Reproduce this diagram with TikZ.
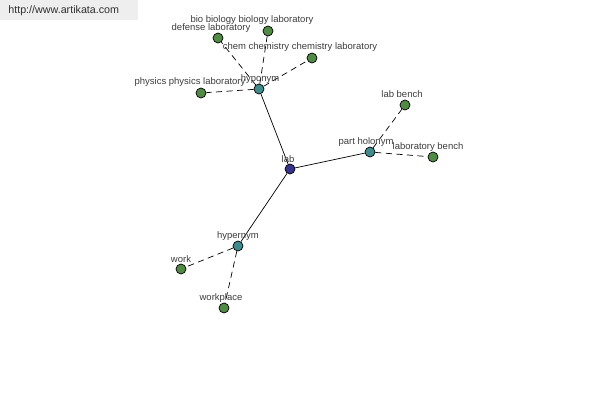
\documentclass[tikz,border=0pt]{standalone}
\usepackage{fontspec}
\setmainfont{Liberation Sans}

\begin{document}
\begin{tikzpicture}[x=0.02cm, y=-0.02cm]
    \definecolor{leafgreen}{RGB}{80,138,68}
    \definecolor{hubteal}{RGB}{64,140,140}
    \definecolor{rootblue}{RGB}{52,52,140}
    \definecolor{labelgray}{RGB}{60,60,60}
    \definecolor{urlbg}{RGB}{238,238,238}
    \tikzset{
      dot/.style={circle, draw=black, line width=0.4pt, inner sep=0pt, minimum size=0.2cm},
      leaf/.style={dot, fill=leafgreen},
      hub/.style={dot, fill=hubteal},
      root/.style={dot, fill=rootblue},
      lbl/.style={text=labelgray, inner sep=0pt, font=\fontsize{5.4}{6}\selectfont},
      rel/.style={line width=0.4pt, dash pattern=on 3.5pt off 2.5pt}
    }
    \useasboundingbox (0,0) rectangle (600,400);

    % site banner
    \fill[urlbg] (0,0) rectangle (138,20);
    \node[text=labelgray!80!black, anchor=west, inner sep=0pt, font=\fontsize{6.1}{7}\selectfont] (url) at (8,11) {http://www.artikata.com};

    % root and relation hubs
    \node[root] (lab) at (290,169) {};
    \node[hub] (hyponym) at (259,89) {};
    \node[hub] (holonym) at (370,152) {};
    \node[hub] (hypernym) at (238,246) {};

    % leaves
    \node[leaf] (defense) at (218,38) {};
    \node[leaf] (bio) at (268,31) {};
    \node[leaf] (chem) at (312,58) {};
    \node[leaf] (physics) at (201,93) {};
    \node[leaf] (labbench) at (405,105) {};
    \node[leaf] (labbench2) at (433,157) {};
    \node[leaf] (work) at (181,269) {};
    \node[leaf] (workplace) at (224,308) {};

    % solid links from the root
    \draw[line width=0.4pt] (lab) -- (hyponym);
    \draw[line width=0.4pt] (lab) -- (holonym);
    \draw[line width=0.4pt] (lab) -- (hypernym);

    % dashed links to the leaves
    \draw[rel] (hyponym) -- (defense);
    \draw[rel] (hyponym) -- (bio);
    \draw[rel] (hyponym) -- (chem);
    \draw[rel] (hyponym) -- (physics);
    \draw[rel] (holonym) -- (labbench);
    \draw[rel] (holonym) -- (labbench2);
    \draw[rel] (hypernym) -- (work);
    \draw[rel] (hypernym) -- (workplace);

    % labels
    \node[lbl] (labtxt) at (288,159) {lab};
    \node[lbl] (hyponymtxt) at (260,79) {hyponym};
    \node[lbl] (holonymtxt) at (366,142) {part holonym};
    \node[lbl] (hypernymtxt) at (238,236) {hypernym};
    \node[lbl] (defensetxt) at (211,28) {defense laboratory};
    \node[lbl] (biotxt) at (252,20) {bio biology biology laboratory};
    \node[lbl] (chemtxt) at (300,47) {chem chemistry chemistry laboratory};
    \node[lbl] (physicstxt) at (190,82) {physics physics laboratory};
    \node[lbl] (labbenchtxt) at (402,94) {lab bench};
    \node[lbl] (labbench2txt) at (428,147) {laboratory bench};
    \node[lbl] (worktxt) at (181,259) {work};
    \node[lbl] (workplacetxt) at (221,298) {workplace};
  \end{tikzpicture}
\end{document}
